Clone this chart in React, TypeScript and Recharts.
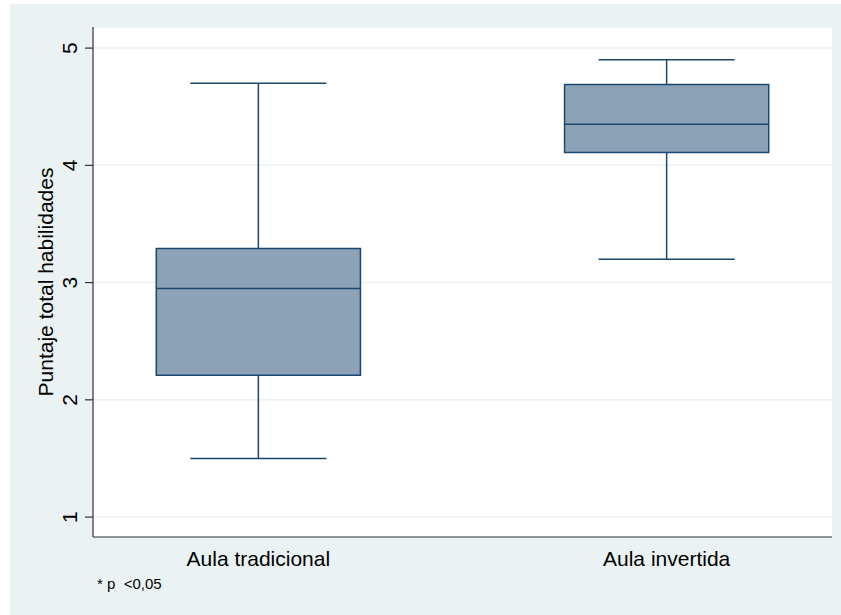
import React from 'react';
import {
  ComposedChart, XAxis, YAxis, CartesianGrid, ReferenceArea, ReferenceLine, Label,
} from 'recharts';

// Box plot summary (Stata-style, two groups)
const categories = ['Aula tradicional', 'Aula invertida'];
const whiskerLow = [1.5, 3.2];
const q1 = [2.21, 4.11];
const median = [2.95, 4.35];
const q3 = [3.29, 4.69];
const whiskerHigh = [4.7, 4.9];

const yTicks = [1, 2, 3, 4, 5];
const xTicks = categories.map((_, i) => i);

const NAVY = '#1A476F';
const BOX_FILL = '#8CA3B7';
const BG = '#EAF2F3';
const FONT = '"Liberation Sans", Arial, sans-serif';

const BOX_HALF = 0.25;
const CAP_HALF = 1 / 6;

const YTick = ({ x, y, payload }: any) => {
  const cx = x - 15.5;
  return (
    <text
      x={cx}
      y={y}
      transform={`rotate(-90, ${cx}, ${y})`}
      textAnchor="middle"
      dominantBaseline="central"
      fontSize={21}
      fontFamily={FONT}
      fill="#000"
    >
      {payload.value}
    </text>
  );
};

const XTick = ({ x, y, payload }: any) => (
  <text x={x} y={y + 29} textAnchor="middle" fontSize={21} fontFamily={FONT} fill="#000">
    {categories[payload.value]}
  </text>
);

const YTitle = ({ viewBox }: any) => {
  const cx = viewBox.x + 2;
  const cy = viewBox.y + viewBox.height / 2;
  return (
    <text
      x={cx}
      y={cy}
      transform={`rotate(-90, ${cx}, ${cy})`}
      textAnchor="middle"
      dominantBaseline="central"
      fontSize={21}
      fontFamily={FONT}
      fill="#000"
    >
      Puntaje total habilidades
    </text>
  );
};

export default function App() {
  return (
    <div style={{ position: 'absolute', left: 0, top: 0, width: 841, height: 615, background: '#fff' }}>
      <div style={{ position: 'absolute', left: 10, top: 4, width: 831, height: 611, background: BG }}>
        <ComposedChart
          width={831}
          height={611}
          data={categories.map((c, i) => ({ x: i, name: c }))}
          margin={{ top: 23, right: 9, bottom: 38, left: 33 }}
        >
          <CartesianGrid vertical={false} fill="#fff" stroke={BG} strokeWidth={1.5} />
          <XAxis
            dataKey="x"
            type="number"
            domain={[-0.405, 1.405]}
            ticks={xTicks}
            allowDataOverflow
            tickLine={false}
            tickSize={0}
            tickMargin={0}
            height={40}
            axisLine={{ stroke: '#333', strokeWidth: 1.2 }}
            tick={<XTick />}
          />
          <YAxis
            type="number"
            domain={[0.83, 5.18]}
            ticks={yTicks}
            allowDataOverflow
            width={50}
            tickSize={8}
            tickMargin={0}
            tickLine={{ stroke: '#333', strokeWidth: 1.2 }}
            axisLine={{ stroke: '#333', strokeWidth: 1.2 }}
            tick={<YTick />}
          >
            <Label content={<YTitle />} />
          </YAxis>

          {categories.map((c, i) => (
            <ReferenceLine
              key={`wl-${c}`}
              segment={[{ x: i, y: whiskerLow[i] }, { x: i, y: q1[i] }]}
              stroke={NAVY}
              strokeWidth={1.5}
            />
          ))}
          {categories.map((c, i) => (
            <ReferenceLine
              key={`wh-${c}`}
              segment={[{ x: i, y: q3[i] }, { x: i, y: whiskerHigh[i] }]}
              stroke={NAVY}
              strokeWidth={1.5}
            />
          ))}
          {categories.map((c, i) => (
            <ReferenceLine
              key={`cl-${c}`}
              segment={[{ x: i - CAP_HALF, y: whiskerLow[i] }, { x: i + CAP_HALF, y: whiskerLow[i] }]}
              stroke={NAVY}
              strokeWidth={1.5}
            />
          ))}
          {categories.map((c, i) => (
            <ReferenceLine
              key={`ch-${c}`}
              segment={[{ x: i - CAP_HALF, y: whiskerHigh[i] }, { x: i + CAP_HALF, y: whiskerHigh[i] }]}
              stroke={NAVY}
              strokeWidth={1.5}
            />
          ))}
          {categories.map((c, i) => (
            <ReferenceArea
              key={`box-${c}`}
              x1={i - BOX_HALF}
              x2={i + BOX_HALF}
              y1={q1[i]}
              y2={q3[i]}
              fill={BOX_FILL}
              fillOpacity={1}
              stroke={NAVY}
              strokeWidth={1.5}
            />
          ))}
          {categories.map((c, i) => (
            <ReferenceLine
              key={`med-${c}`}
              segment={[{ x: i - BOX_HALF, y: median[i] }, { x: i + BOX_HALF, y: median[i] }]}
              stroke={NAVY}
              strokeWidth={1.5}
            />
          ))}
        </ComposedChart>
        <div
          style={{
            position: 'absolute',
            left: 87,
            top: 572,
            fontFamily: FONT,
            fontSize: 15,
            lineHeight: '15px',
            whiteSpace: 'pre',
            color: '#000',
          }}
        >
          {'* p  <0,05'}
        </div>
      </div>
    </div>
  );
}
